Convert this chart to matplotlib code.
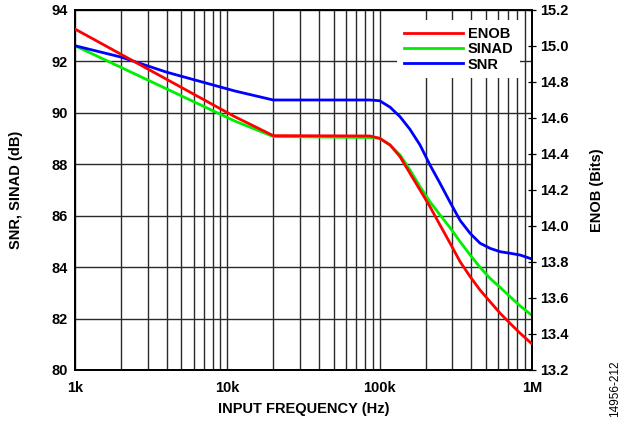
import numpy as np
import matplotlib
matplotlib.use("Agg")
import matplotlib.pyplot as plt
from matplotlib.ticker import FixedLocator, NullFormatter

plt.rcParams['font.family'] = ['Liberation Sans', 'DejaVu Sans']

# values (frequency in Hz)
snr_f = [1e3, 2e3, 4e3, 11.2e3, 20e3, 86.5e3, 100e3, 117e3, 136e3, 158e3, 184e3, 214e3,
         249e3, 290e3, 337e3, 393e3, 456e3, 531e3, 618e3, 718e3, 836e3, 971e3]
snr_db = [92.61, 92.17, 91.58, 90.85, 90.5, 90.5, 90.47, 90.22, 89.85, 89.36, 88.75, 87.97,
          87.26, 86.52, 85.82, 85.31, 84.93, 84.73, 84.60, 84.54, 84.47, 84.34]

sinad_f = [1e3, 11.2e3, 20e3, 86.5e3, 100e3, 117e3, 136e3, 158e3, 184e3, 214e3, 249e3,
           290e3, 337e3, 393e3, 456e3, 531e3, 618e3, 718e3, 836e3, 990e3]
sinad_db = [92.61, 89.68, 89.08, 89.04, 89.01, 88.75, 88.36, 87.78, 87.13, 86.54, 86.03,
            85.53, 84.99, 84.47, 83.99, 83.56, 83.21, 82.85, 82.49, 82.14]

enob_f = [1e3, 11.2e3, 20e3, 86.5e3, 100e3, 117e3, 136e3, 158e3, 184e3, 214e3, 249e3,
          290e3, 337e3, 393e3, 456e3, 531e3, 618e3, 718e3, 836e3, 990e3]
enob_bits = [15.094, 14.607, 14.502, 14.50, 14.487, 14.45, 14.385, 14.293, 14.20, 14.107, 14.005,
             13.904, 13.802, 13.718, 13.644, 13.579, 13.515, 13.459, 13.404, 13.348]

x_ticks = [1e3, 1e4, 1e5, 1e6]
x_labels = ['1k', '10k', '100k', '1M']
left_ticks = [80, 82, 84, 86, 88, 90, 92, 94]
right_ticks = [13.2, 13.4, 13.6, 13.8, 14.0, 14.2, 14.4, 14.6, 14.8, 15.0, 15.2]

fig = plt.figure(figsize=(6.21, 4.23), dpi=100)
ax = fig.add_axes([0.1208, 0.1253, 0.7359, 0.8511])
ax2 = ax.twinx()

lw = 2.0
l_snr, = ax.plot(snr_f, snr_db, color='#0000ff', lw=lw, label='SNR', zorder=3)
l_sinad, = ax.plot(sinad_f, sinad_db, color='#00ee00', lw=lw, label='SINAD', zorder=2)
l_enob, = ax2.plot(enob_f, enob_bits, color='#ff0000', lw=lw, label='ENOB', zorder=3)

ax.set_xscale('log')
ax.set_xlim(1e3, 1e6)
ax.set_ylim(80, 94)
ax2.set_ylim(13.2, 15.2)

ax.xaxis.set_major_locator(FixedLocator(x_ticks))
ax.set_xticklabels(x_labels)
ax.xaxis.set_minor_formatter(NullFormatter())
ax.set_yticks(left_ticks)
ax2.set_yticks(right_ticks)
ax2.set_yticklabels(['%.1f' % v for v in right_ticks])

ax.grid(True, which='both', axis='x', color='#2a2a2a', lw=1.0)
ax.grid(True, which='major', axis='y', color='#2a2a2a', lw=1.0)
ax.tick_params(axis='x', which='both', length=0, labelsize=10.5, pad=8)
ax.tick_params(axis='y', which='both', length=0, labelsize=10.5, pad=5.5)
for lab in ax.get_xticklabels() + ax.get_yticklabels():
    lab.set_fontweight('bold')
ax2.tick_params(axis='y', direction='inout', length=6, width=0.9, labelsize=10.5, pad=3)
for lab in ax2.get_yticklabels():
    lab.set_fontweight('bold')

for sp in list(ax.spines.values()) + list(ax2.spines.values()):
    sp.set_linewidth(1.3)
    sp.set_color('black')

ax.set_xlabel('INPUT FREQUENCY (Hz)', fontsize=10.5, fontweight='bold')
ax.set_ylabel('SNR, SINAD (dB)', fontsize=10.5, fontweight='bold')
ax2.set_ylabel('ENOB (Bits)', fontsize=10.5, fontweight='bold')
ax.xaxis.set_label_coords(0.5, -0.088)
ax.yaxis.set_label_coords(-0.114, 0.5)
ax2.yaxis.set_label_coords(1.127, 0.5)

leg = ax2.legend(handles=[l_enob, l_sinad, l_snr], loc='upper left',
                 bbox_to_anchor=(0.7046, 0.972), frameon=True, fancybox=False,
                 edgecolor='none', framealpha=1, prop={'weight': 'bold', 'size': 10.5},
                 handlelength=4.05, handletextpad=0.35, labelspacing=0.1,
                 borderpad=0.45, borderaxespad=0)
leg.set_zorder(10)

fig.text(0.990, 0.014, '14956-212', rotation=90, fontsize=8.5, ha='center', va='bottom')

fig.savefig('out.png', dpi=100)
